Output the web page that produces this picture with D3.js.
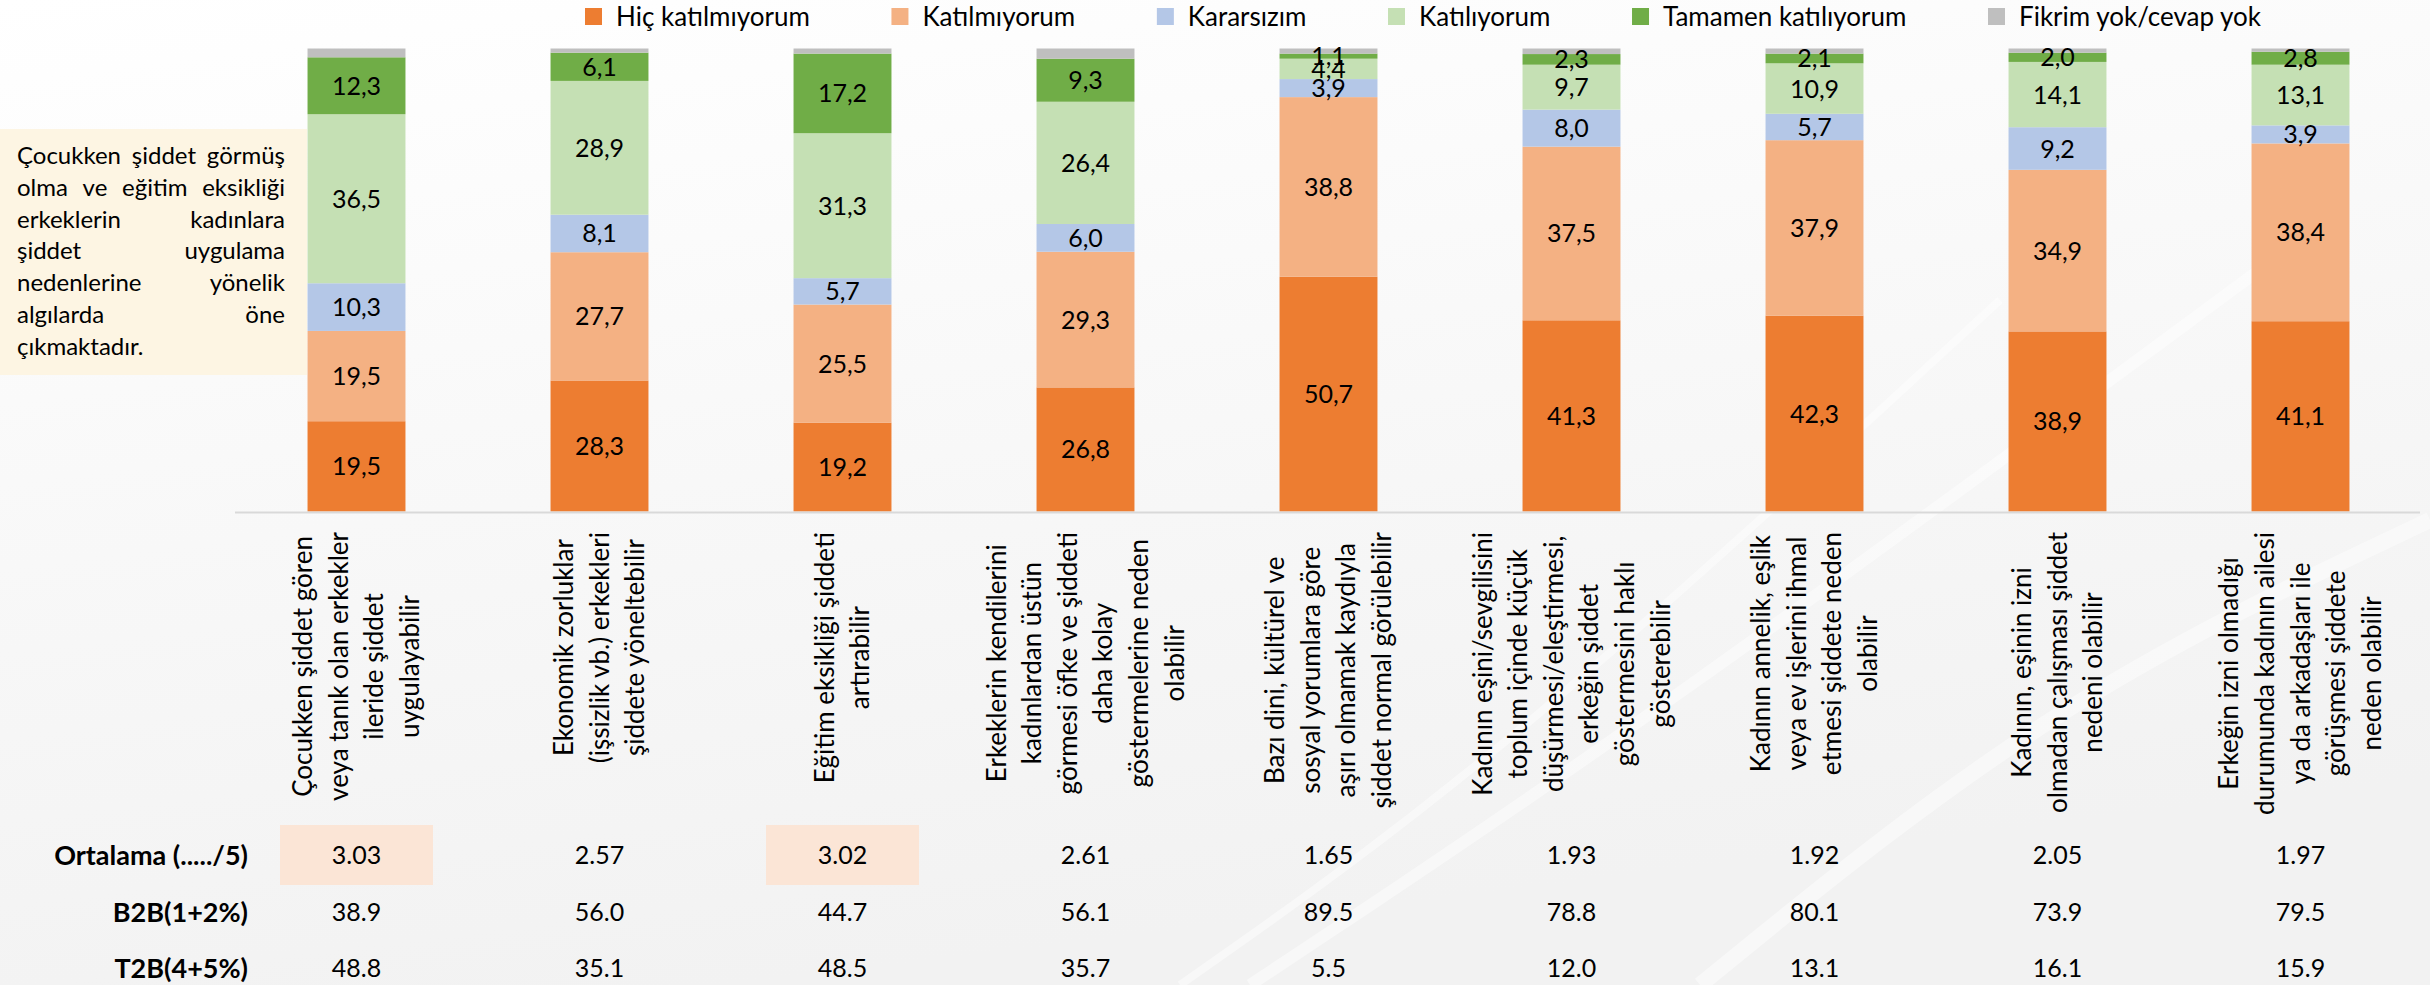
<!DOCTYPE html>
<html>
<head>
<meta charset="utf-8">
<script src="https://cdn.jsdelivr.net/npm/d3@7"></script>
<style>
html, body { margin: 0; padding: 0; background: #fff; }
svg { display: block; font-family: Lato, "Open Sans", sans-serif; }
</style>
</head>
<body>
<div id="chart"></div>
<script>
// categories, one array of lines per bar (line breaks as in the slide)
const categories = [
    ["Çocukken şiddet gören", "veya tanık olan erkekler", "ileride şiddet", "uygulayabilir"],
    ["Ekonomik zorluklar", "(işsizlik vb.) erkekleri", "şiddete yöneltebilir"],
    ["Eğitim eksikliği şiddeti", "artırabilir"],
    ["Erkeklerin kendilerini", "kadınlardan üstün", "görmesi öfke ve şiddeti", "daha kolay", "göstermelerine neden", "olabilir"],
    ["Bazı dini, kültürel ve", "sosyal yorumlara göre", "aşırı olmamak kaydıyla", "şiddet normal görülebilir"],
    ["Kadının eşini/sevgilisini", "toplum içinde küçük", "düşürmesi/eleştirmesi,", "erkeğin şiddet", "göstermesini haklı", "gösterebilir"],
    ["Kadının annelik, eşlik", "veya ev işlerini ihmal", "etmesi şiddete neden", "olabilir"],
    ["Kadının, eşinin izni", "olmadan çalışması şiddet", "nedeni olabilir"],
    ["Erkeğin izni olmadığı", "durumunda kadının ailesi", "ya da arkadaşları ile", "görüşmesi şiddete", "neden olabilir"]
];

const seriesNames = ["Hiç katılmıyorum", "Katılmıyorum", "Kararsızım", "Katılıyorum", "Tamamen katılıyorum", "Fikrim yok/cevap yok"];
const hicKatilmiyorum = [19.5, 28.3, 19.2, 26.8, 50.7, 41.3, 42.3, 38.9, 41.1];
const katilmiyorum    = [19.5, 27.7, 25.5, 29.3, 38.8, 37.5, 37.9, 34.9, 38.4];
const kararsizim      = [10.3, 8.1, 5.7, 6.0, 3.9, 8.0, 5.7, 9.2, 3.9];
const katiliyorum     = [36.5, 28.9, 31.3, 26.4, 4.4, 9.7, 10.9, 14.1, 13.1];
const tamamen         = [12.3, 6.1, 17.2, 9.3, 1.1, 2.3, 2.1, 2.0, 2.8];
const fikrimYok       = [1.9, 0.9, 1.1, 2.2, 1.1, 1.2, 1.1, 0.9, 0.7];

const rowLabels = ["Ortalama (...../5)", "B2B(1+2%)", "T2B(4+5%)"];
const ortalama = [3.03, 2.57, 3.02, 2.61, 1.65, 1.93, 1.92, 2.05, 1.97];
const b2b      = [38.9, 56.0, 44.7, 56.1, 89.5, 78.8, 80.1, 73.9, 79.5];
const t2b      = [48.8, 35.1, 48.5, 35.7, 5.5, 12.0, 13.1, 16.1, 15.9];

const noteLines = ["Çocukken şiddet görmüş", "olma ve eğitim eksikliği", "erkeklerin kadınlara",
    "şiddet uygulama", "nedenlerine yönelik", "algılarda öne", "çıkmaktadır."];

const colors = ["#ED7D31", "#F4B183", "#B4C7E7", "#C5E0B4", "#70AD47", "#BFBFBF"];

// layout
const width = 2430, height = 985;
const plotLeft = 235, plotRight = 2422;
const plotTop = 48.5, baseline = 511.5;

const allSeries = [hicKatilmiyorum, katilmiyorum, kararsizim, katiliyorum, tamamen, fikrimYok];
const rows = categories.map((c, i) => {
    const r = {i: i};
    seriesNames.forEach((s, k) => r[s] = allSeries[k][i]);
    return r;
});
const stacked = d3.stack().keys(seriesNames)(rows);

const x = d3.scaleBand().domain(d3.range(categories.length))
    .range([plotLeft, plotRight]).paddingInner(0.597).paddingOuter(0.2985);
const y = d3.scaleLinear().domain([0, 100]).range([baseline, plotTop]);
const color = d3.scaleOrdinal().domain(seriesNames).range(colors);
const fmtComma = v => d3.format(".1f")(v).replace(".", ",");

const svg = d3.select("#chart").append("svg")
    .attr("width", width).attr("height", height);

// background
const defs = svg.append("defs");
const grad = defs.append("linearGradient").attr("id", "bg").attr("x1", 0).attr("y1", 0).attr("x2", 0.3).attr("y2", 1);
grad.append("stop").attr("offset", "0%").attr("stop-color", "#ffffff");
grad.append("stop").attr("offset", "45%").attr("stop-color", "#f9f9f9");
grad.append("stop").attr("offset", "100%").attr("stop-color", "#f2f2f2");
svg.append("rect").attr("width", width).attr("height", height).attr("fill", "url(#bg)");
svg.append("g").attr("fill", "none").attr("stroke", "#ffffff").attr("stroke-opacity", 0.45)
    .selectAll("path")
    .data([[[1180, 985], [1500, 760], [2000, 300]], [[1250, 985], [1650, 720], [2300, 240]],
           [[1700, 985], [2050, 700], [2430, 520]]])
    .join("path")
    .attr("stroke-width", (d, i) => 8 + i * 4)
    .attr("d", d3.line().curve(d3.curveBasis));

// note box
const note = svg.append("g");
note.append("rect").attr("x", 0).attr("y", 129).attr("width", 307).attr("height", 246).attr("fill", "#FDF5E3");
const noteLeft = 17, noteRight = 285, noteFont = 24;
noteLines.forEach((line, li) => {
    const words = line.split(" ");
    const yy = 164 + li * 31.8;
    const texts = words.map(w => note.append("text").attr("y", yy)
        .attr("font-size", noteFont).attr("fill", "#000").text(w));
    const widths = texts.map(t => t.node().getComputedTextLength());
    const last = li === noteLines.length - 1;
    const gap = (!last && words.length > 1)
        ? (noteRight - noteLeft - d3.sum(widths)) / (words.length - 1)
        : noteFont * 0.26;
    let cx = noteLeft;
    texts.forEach((t, k) => { t.attr("x", cx); cx += widths[k] + gap; });
});

// bars
const layer = svg.append("g").selectAll("g").data(stacked).join("g")
    .attr("fill", d => color(d.key));
layer.selectAll("rect").data(d => d).join("rect")
    .attr("x", d => x(d.data.i))
    .attr("width", x.bandwidth())
    .attr("y", d => y(d[1]))
    .attr("height", d => y(d[0]) - y(d[1]));

// value labels (all but the no-answer series)
svg.append("g").attr("font-size", 25).attr("text-anchor", "middle").attr("fill", "#000")
    .selectAll("g").data(stacked.slice(0, 5)).join("g")
    .selectAll("text").data(d => d).join("text")
    .attr("x", d => x(d.data.i) + x.bandwidth() / 2)
    .attr("y", d => (y(d[0]) + y(d[1])) / 2)
    .attr("dy", "0.36em")
    .text(d => fmtComma(d[1] - d[0]));

// axis line
svg.append("line").attr("x1", plotLeft).attr("x2", plotRight - 2)
    .attr("y1", baseline + 1).attr("y2", baseline + 1)
    .attr("stroke", "#D9D9D9").attr("stroke-width", 2);

// category labels, rotated
const labelTop = 532, lineH = 35.6;
const catG = svg.append("g").attr("font-size", 26).attr("fill", "#000");
categories.forEach((lines, i) => {
    const g = catG.append("g")
        .attr("transform", `translate(${x(i) + x.bandwidth() / 2},${labelTop}) rotate(-90)`);
    const texts = lines.map((l, k) => g.append("text")
        .attr("text-anchor", "middle")
        .attr("y", (k - (lines.length - 1) / 2) * lineH)
        .attr("dy", "0.35em")
        .text(l));
    const maxLen = d3.max(texts, t => t.node().getComputedTextLength());
    texts.forEach(t => t.attr("x", -maxLen / 2));
});

// legend
const legend = svg.append("g").attr("font-size", 26).attr("fill", "#000");
const legStart = 585, legEnd = 2261, sw = 17, swGap = 14, legY = 16.5;
const legTexts = seriesNames.map(s => legend.append("text").attr("y", legY).attr("dy", "0.35em").text(s));
const legW = legTexts.map(t => t.node().getComputedTextLength());
const legGap = (legEnd - legStart - d3.sum(legW) - seriesNames.length * (sw + swGap)) / (seriesNames.length - 1);
let lx = legStart;
seriesNames.forEach((s, k) => {
    legend.append("rect").attr("x", lx).attr("y", legY - sw / 2).attr("width", sw).attr("height", sw).attr("fill", color(s));
    legTexts[k].attr("x", lx + sw + swGap);
    lx += sw + swGap + legW[k] + legGap;
});

// summary table
const tableRows = [
    {label: rowLabels[0], values: ortalama, fmt: d3.format(".2f"), y: 855},
    {label: rowLabels[1], values: b2b, fmt: d3.format(".1f"), y: 912},
    {label: rowLabels[2], values: t2b, fmt: d3.format(".1f"), y: 968}
];
const table = svg.append("g");
// highlight the two highest means
const topMeans = d3.range(ortalama.length).sort((a, b) => ortalama[b] - ortalama[a]).slice(0, 2);
table.selectAll("rect.hl").data(topMeans).join("rect").attr("class", "hl")
    .attr("x", i => x(i) + x.bandwidth() / 2 - 76.5)
    .attr("y", tableRows[0].y - 30)
    .attr("width", 153).attr("height", 60)
    .attr("fill", "#FBE5D6");
table.selectAll("text.rl").data(tableRows).join("text").attr("class", "rl")
    .attr("x", 248).attr("y", d => d.y).attr("dy", "0.36em")
    .attr("text-anchor", "end").attr("font-weight", "bold").attr("font-size", 27)
    .text(d => d.label);
tableRows.forEach(r => {
    table.append("g").attr("font-size", 25).attr("text-anchor", "middle")
        .selectAll("text").data(r.values).join("text")
        .attr("x", (v, i) => x(i) + x.bandwidth() / 2)
        .attr("y", r.y).attr("dy", "0.36em")
        .text(v => r.fmt(v));
});
</script>
</body>
</html>
